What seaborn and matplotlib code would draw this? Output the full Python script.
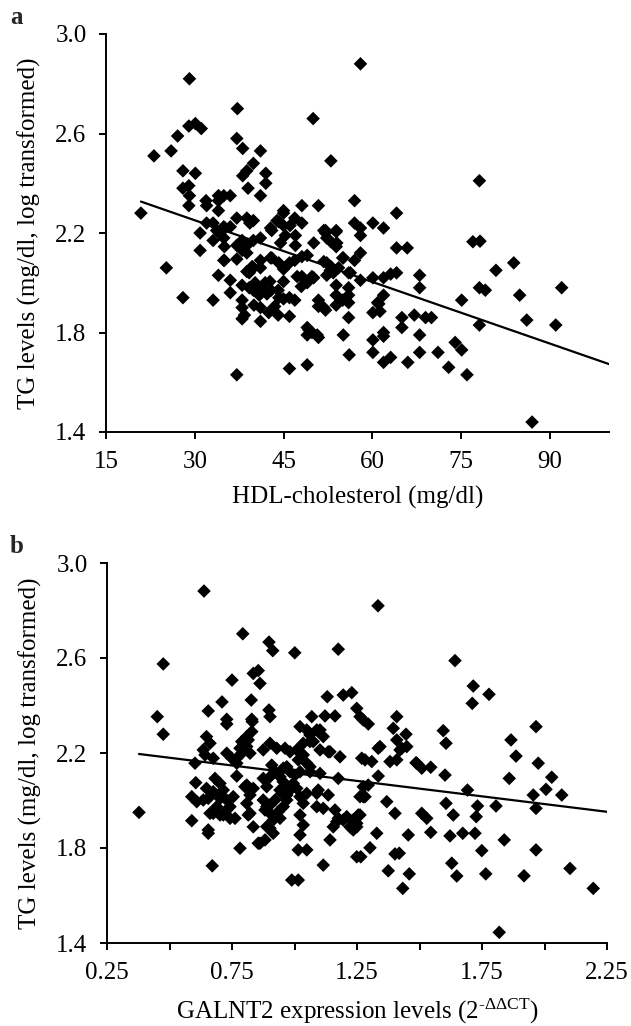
import numpy as np
import pandas as pd
import matplotlib
matplotlib.use("Agg")
import matplotlib.pyplot as plt
import seaborn as sns

# ---------------- Panel a data: HDL-cholesterol vs TG (log) ----------------
hdl = [
    29.1, 37.2, 50.0, 58.0, 29.0, 30.1, 31.1, 27.1, 23.1, 26.0,
    37.1, 38.1, 41.1, 53.0, 39.9, 28.0, 30.1, 38.8, 38.1, 42.0,
    42.0, 39.0, 41.1, 28.0, 29.0, 29.1, 29.0, 20.9, 31.9, 32.0,
    34.0, 34.9, 36.0, 34.0, 34.0, 45.0, 48.1, 50.9, 57.0, 57.0,
    53.9, 52.1, 37.1, 38.8, 39.9, 39.3, 42.8, 43.9, 45.0, 46.9,
    48.1, 46.1, 30.9, 32.0, 33.1, 33.7, 35.1, 64.1, 58.0, 60.1,
    61.9, 58.0, 78.1, 77.0, 78.2, 64.1, 65.9, 58.0, 55.1, 57.0,
    80.9, 83.9, 56.0, 58.0, 60.1, 61.9, 63.1, 64.1, 68.0, 68.0,
    78.1, 79.1, 84.9, 92.0, 75.1, 56.0, 56.0, 56.0, 61.9, 60.9,
    60.1, 61.3, 56.0, 65.0, 67.1, 69.0, 70.0, 65.0, 61.9, 61.9,
    68.0, 78.1, 86.1, 91.0, 55.1, 60.1, 60.1, 56.1, 61.9, 63.1,
    66.0, 68.0, 71.1, 74.0, 75.1, 72.9, 76.0, 87.0, 25.2, 28.0,
    33.1, 30.9, 33.1, 35.0, 35.0, 34.0, 36.0, 36.0, 37.1, 38.0,
    38.0, 38.0, 38.4, 38.0, 37.1, 39.2, 39.9, 41.1, 39.2, 39.9,
    41.1, 41.9, 42.7, 41.1, 41.1, 38.0, 38.8, 39.9, 41.1, 43.0,
    43.0, 44.2, 45.0, 46.0, 46.9, 45.0, 44.1, 44.2, 45.0, 46.0,
    46.9, 44.1, 46.0, 47.0, 47.0, 48.1, 49.0, 49.8, 49.0, 48.0,
    50.9, 51.8, 49.0, 49.8, 50.9, 49.0, 46.0, 49.0, 50.1, 52.1,
    53.9, 53.0, 53.9, 51.8, 53.0, 54.3, 55.0, 53.9, 53.9, 53.9,
    55.0, 34.9, 36.0, 34.2, 34.9, 37.1, 38.0, 44.2, 45.0, 45.3,
    44.5, 51.8, 52.3, 54.0, 52.3, 52.9, 52.3, 53.4, 56.3, 34.9,
    38.8, 39.7, 38.8, 41.1, 42.8, 40.2, 40.9, 42.2, 42.9, 43.5,
    42.5, 40.0, 47.3, 48.1, 50.1, 52.1, 50.9, 49.3, 50.7, 61.1,
]
tg_a = [
    2.82, 2.70, 2.66, 2.88, 2.63, 2.64, 2.62, 2.59, 2.51, 2.53,
    2.58, 2.54, 2.53, 2.49, 2.48, 2.45, 2.44, 2.45, 2.43, 2.44,
    2.40, 2.38, 2.35, 2.38, 2.39, 2.35, 2.31, 2.28, 2.33, 2.31,
    2.35, 2.35, 2.35, 2.33, 2.29, 2.29, 2.31, 2.31, 2.33, 2.24,
    2.21, 2.21, 2.26, 2.26, 2.25, 2.24, 2.22, 2.25, 2.23, 2.26,
    2.24, 2.23, 2.20, 2.24, 2.24, 2.21, 2.22, 2.28, 2.22, 2.24,
    2.22, 2.19, 2.41, 2.165, 2.167, 2.14, 2.14, 2.12, 2.10, 2.09,
    2.05, 2.08, 2.04, 2.01, 2.02, 2.02, 2.035, 2.04, 2.03, 1.98,
    1.98, 1.97, 1.95, 1.98, 1.93, 1.98, 1.95, 1.92, 1.95, 1.92,
    1.88, 1.885, 1.86, 1.86, 1.87, 1.86, 1.86, 1.82, 1.80, 1.785,
    1.79, 1.83, 1.85, 1.83, 1.79, 1.77, 1.72, 1.71, 1.68, 1.70,
    1.68, 1.72, 1.72, 1.76, 1.73, 1.66, 1.63, 1.44, 2.06, 1.94,
    1.93, 2.13, 2.17, 2.145, 2.09, 2.03, 2.01, 1.96, 2.095, 1.99,
    1.93, 1.90, 1.87, 1.855, 1.63, 2.04, 2.06, 2.09, 1.98, 1.97,
    1.98, 2.00, 2.005, 1.90, 1.845, 2.17, 2.15, 2.17, 2.18, 2.10,
    2.21, 2.08, 2.055, 2.08, 2.09, 2.005, 1.97, 1.94, 1.935, 1.94,
    1.93, 1.87, 1.865, 2.19, 2.15, 2.105, 2.11, 2.025, 2.00, 1.985,
    1.93, 1.90, 1.82, 1.80, 1.78, 1.79, 1.655, 1.67, 2.16, 2.20,
    2.205, 2.165, 2.145, 2.085, 2.065, 2.06, 2.10, 1.99, 1.95, 1.91,
    1.93, 2.225, 2.225, 2.20, 2.18, 2.15, 2.13, 2.245, 2.28, 2.19,
    2.16, 2.21, 2.18, 2.16, 2.08, 2.05, 2.03, 2.04, 2.04, 2.09,
    2.12, 2.065, 2.045, 2.06, 2.10, 2.00, 1.95, 1.955, 1.97, 1.905,
    1.88, 1.91, 2.025, 2.025, 2.02, 1.89, 1.905, 1.81, 1.79, 1.915,
]
# fitted trend line (intercept, slope)
trend_a = (2.499, -0.00826)

# ---------------- Panel b data: GALNT2 expression vs TG (log) ----------------
galnt2 = [
    0.638, 0.475, 0.793, 0.898, 0.913, 1.001, 1.175, 0.750, 0.835, 0.855,
    0.862, 0.827, 0.710, 0.655, 0.451, 0.898, 0.902, 1.131, 1.195, 1.229,
    1.249, 1.069, 1.122, 1.162, 0.729, 0.829, 1.334, 1.642, 1.715, 1.778,
    1.711, 1.262, 1.409, 0.475, 0.378, 0.729, 0.831, 0.829, 0.815, 0.789,
    0.809, 0.789, 0.769, 0.648, 0.662, 0.635, 0.642, 0.675, 0.602, 0.729,
    0.749, 0.769, 0.605, 0.589, 0.609, 0.648, 0.655, 0.682, 0.702, 0.715,
    0.709, 0.729, 0.742, 0.755, 0.589, 0.675, 0.689, 0.715, 0.742, 0.762,
    0.655, 0.655, 0.782, 0.671, 0.769, 0.802, 0.835, 0.809, 0.822, 0.835,
    0.862, 0.882, 0.902, 0.915, 0.875, 0.902, 0.929, 0.875, 0.882, 0.902,
    0.922, 0.935, 0.942, 0.909, 0.922, 0.942, 0.955, 0.962, 0.949, 0.969,
    0.982, 1.002, 0.995, 0.982, 1.009, 1.015, 1.035, 1.049, 1.062, 1.022,
    1.102, 1.062, 1.062, 1.115, 1.135, 1.182, 1.175, 1.022, 1.035, 1.022,
    1.035, 1.022, 1.015, 1.049, 1.115, 0.989, 1.015, 1.095, 1.135, 1.115,
    1.162, 1.175, 1.155, 1.142, 1.195, 1.222, 1.249, 1.262, 1.262, 1.249,
    1.275, 1.295, 1.395, 1.446, 1.409, 1.429, 1.342, 1.282, 1.309, 1.382,
    1.409, 1.595, 1.606, 1.866, 1.886, 1.966, 1.975, 1.486, 1.509, 1.545,
    1.602, 1.859, 2.029, 2.006, 2.069, 1.955, 1.966, 1.335, 1.295, 1.282,
    1.692, 1.732, 1.727, 1.806, 1.369, 1.402, 1.509, 1.529, 1.606, 1.635,
    1.209, 1.235, 1.255, 1.229, 1.329, 1.455, 1.545, 1.622, 1.673, 1.722,
    1.749, 1.839, 1.966, 1.302, 1.265, 1.402, 1.419, 1.375, 1.459, 1.433,
    1.629, 1.649, 1.765, 1.918, 2.102, 2.195, 1.819, 1.089, 1.049, 0.782,
    0.809, 0.822, 0.962, 0.982, 1.035, 1.075, 1.102, 1.142, 0.955, 1.022,
    1.062, 1.102, 0.902, 0.889, 0.942, 0.969, 1.009, 1.049, 1.089, 0.635,
    0.675, 0.702, 0.809, 0.822, 0.815, 0.662, 0.702, 0.729, 0.875, 0.889,
    0.902, 0.915, 0.889, 0.855, 0.955, 0.969, 1.089, 1.169, 1.249, 1.235,
    1.269, 1.335, 1.275, 1.275, 1.422, 1.449, 1.489,
]
tg_b = [
    2.882, 2.575, 2.702, 2.667, 2.631, 2.622, 2.637, 2.507, 2.535, 2.547,
    2.493, 2.423, 2.415, 2.377, 2.353, 2.381, 2.353, 2.437, 2.444, 2.454,
    2.388, 2.353, 2.356, 2.356, 2.342, 2.342, 2.820, 2.589, 2.482, 2.447,
    2.409, 2.353, 2.353, 2.279, 1.950, 2.322, 2.332, 2.290, 2.255, 2.248,
    2.227, 2.199, 2.178, 2.269, 2.241, 2.213, 2.192, 2.178, 2.157, 2.199,
    2.178, 2.157, 2.075, 2.016, 1.995, 2.051, 2.009, 2.093, 2.072, 2.044,
    2.016, 2.002, 1.974, 2.016, 1.915, 1.946, 1.974, 1.939, 1.925, 1.925,
    1.876, 1.862, 1.799, 1.725, 2.103, 2.058, 2.051, 1.988, 1.946, 1.889,
    1.820, 1.834, 1.883, 1.862, 2.213, 2.241, 2.220, 2.093, 1.960, 1.981,
    2.002, 1.953, 1.925, 2.149, 2.121, 2.100, 2.079, 2.058, 2.030, 2.142,
    2.121, 2.107, 2.072, 2.044, 2.213, 2.171, 2.192, 2.157, 2.142, 2.311,
    2.297, 2.276, 2.248, 2.269, 2.205, 2.184, 2.093, 2.016, 1.988, 1.939,
    1.897, 1.855, 1.792, 1.792, 1.728, 1.665, 1.665, 2.044, 2.023, 1.967,
    1.960, 1.925, 1.889, 1.834, 1.918, 1.889, 1.889, 1.939, 2.016, 1.763,
    2.339, 2.322, 2.304, 2.279, 2.255, 2.220, 2.227, 2.171, 2.164, 2.164,
    2.171, 2.294, 2.241, 2.255, 2.187, 2.311, 2.157, 2.159, 2.136, 2.140,
    2.107, 2.093, 2.098, 2.047, 2.023, 2.023, 1.967, 2.103, 2.065, 2.016,
    2.044, 1.977, 1.932, 1.977, 1.995, 1.946, 1.946, 1.925, 1.988, 1.939,
    1.932, 1.918, 1.939, 1.883, 1.862, 1.855, 1.866, 1.851, 1.862, 1.862,
    1.789, 1.834, 1.792, 1.801, 1.763, 1.775, 1.778, 1.704, 1.691, 1.630,
    1.736, 1.682, 1.691, 1.683, 1.714, 1.630, 1.445, 2.297, 2.297, 2.220,
    2.269, 2.199, 2.220, 2.205, 2.241, 2.248, 2.213, 2.205, 2.136, 2.121,
    2.121, 2.114, 2.100, 2.058, 2.044, 2.023, 2.051, 2.030, 2.030, 2.002,
    2.037, 2.009, 2.065, 2.023, 1.939, 1.946, 1.939, 1.960, 2.002, 1.974,
    1.946, 1.918, 1.890, 1.820, 1.974, 2.002, 1.974, 1.911, 1.904, 1.876,
    2.178, 2.220, 2.058, 2.016, 2.213, 2.227, 2.157,
]
trend_b = (2.245, -0.130)

assert len(hdl) == len(tg_a)
assert len(galnt2) == len(tg_b)

# axis settings (labels / ticks)
xticks_a = [15, 30, 45, 60, 75, 90]
xlim_a = (15, 100)
xticks_b = [0.25, 0.50, 0.75, 1.00, 1.25, 1.50, 1.75, 2.00, 2.25]
xticklabels_b = ["0.25", "", "0.75", "", "1.25", "", "1.75", "", "2.25"]
xlim_b = (0.25, 2.25)
yticks = [1.4, 1.8, 2.2, 2.6, 3.0]
yticklabels = ["1.4", "1.8", "2.2", "2.6", "3.0"]
ylabel = "TG levels (mg/dl, log transformed)"
xlabel_a = "HDL-cholesterol (mg/dl)"
xlabel_b = r"GALNT2 expression levels (2$^{\text{-ΔΔCT}}$)"

sns.set_style("ticks")
plt.rcParams["font.family"] = ["Liberation Serif", "DejaVu Serif"]
plt.rcParams["mathtext.fontset"] = "custom"
plt.rcParams["mathtext.rm"] = "Liberation Serif"
plt.rcParams["mathtext.it"] = "Liberation Serif:italic"

FS = 18
fig = plt.figure(figsize=(6.31, 10.26), dpi=100)
ax_a = fig.add_axes([106 / 631, 1 - 432 / 1026, 503 / 631, 398 / 1026])
ax_b = fig.add_axes([107 / 631, 1 - 943 / 1026, 500 / 631, 380 / 1026])

df_a = pd.DataFrame({"x": hdl, "y": tg_a})
df_b = pd.DataFrame({"x": galnt2, "y": tg_b})

panels = [
    (ax_a, df_a, trend_a, xlim_a, xticks_a, [str(t) for t in xticks_a], xlabel_a),
    (ax_b, df_b, trend_b, xlim_b, xticks_b, xticklabels_b, xlabel_b),
]

for ax, df, trend, xlim, xt, xtl, xl in panels:
    sns.scatterplot(data=df, x="x", y="y", ax=ax, marker="D", s=48,
                    color="black", edgecolor="none", linewidth=0, zorder=3)
    lx = np.array([df["x"].min(), xlim[1]])
    ly = trend[0] + trend[1] * lx
    sns.lineplot(x=lx, y=ly, ax=ax, color="black", linewidth=1.6, zorder=4)
    ax.set_xlim(*xlim)
    ax.set_ylim(1.4, 3.0)
    ax.set_xticks(xt)
    ax.set_xticklabels(xtl)
    ax.set_yticks(yticks)
    ax.set_yticklabels(yticklabels)
    ax.tick_params(axis="both", direction="out", length=5, width=1.4,
                   labelsize=FS, color="black", labelcolor="black")
    ax.tick_params(axis="x", pad=9)
    ax.tick_params(axis="y", pad=9)
    ax.set_xlabel(xl, fontsize=FS, labelpad=9, color="black")
    ax.set_ylabel(ylabel, fontsize=FS, labelpad=10, color="black")
    for side in ["top", "right"]:
        ax.spines[side].set_visible(False)
    for side in ["left", "bottom"]:
        ax.spines[side].set_linewidth(1.4)
        ax.spines[side].set_color("black")
    ax.set_facecolor("white")
    for c in ax.collections:
        c.set_clip_on(False)

fig.text(10 / 631, 1 - 24 / 1026, "a", fontsize=FS, fontweight="bold", va="baseline")
fig.text(10 / 631, 1 - 553 / 1026, "b", fontsize=FS, fontweight="bold", va="baseline")

fig.savefig("out.png", dpi=100, facecolor="white")
